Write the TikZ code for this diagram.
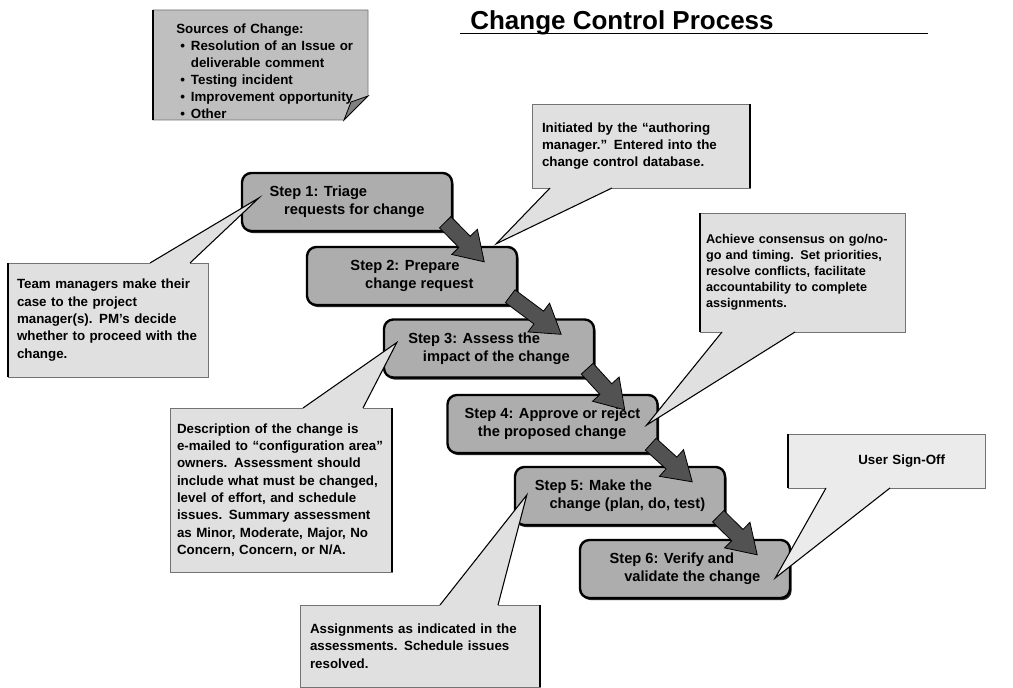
\documentclass[tikz,border=0pt]{standalone}
\usepackage{fontspec}
\setmainfont{Liberation Sans}
\usetikzlibrary{calc,shadows,backgrounds}
\newlength\pxu
\setlength\pxu{0.75pt}
\tikzset{
  stepbox/.style={draw=black, line width=1.8pt, rounded corners=7pt, fill=black!32,
    align=left, font=\fontsize{11}{13.5}\selectfont\bfseries,
    minimum width=210\pxu, minimum height=58\pxu, inner sep=0pt,
    drop shadow={shadow xshift=1.2pt, shadow yshift=-1.6pt, fill=black, opacity=0.85}},
  notebox/.style={fill=black!12, align=left, font=\fontsize{10}{13}\selectfont\bfseries,
    inner ysep=0pt, outer sep=0pt},
  notefill/.style={fill=black!12},
  noteedge/.style={draw=black!55, line width=0.5pt},
  noteside/.style={draw=black, line width=1.6pt},
  pointer/.style={draw=black, line width=0.8pt},
  arrowbody/.style={fill=black!68, draw=black, line width=0.6pt},
  srclist/.style={align=left, font=\fontsize{10}{12.75}\selectfont\bfseries,
    inner sep=0pt, text width=190\pxu},
  heading/.style={font=\fontsize{19.5}{22}\selectfont\bfseries, inner sep=0pt}
}
% block arrow from #1 to #2
\newcommand\flowarrow[2]{%
  \filldraw[arrowbody] let \p1=(#1), \p2=(#2), \n1={atan2(\y2-\y1,\x2-\x1)} in
    ($(\p1)+(\n1+90:6pt)$)
    -- ($(\p2)+(\n1+180:21pt)+(\n1+90:6pt)$)
    -- ($(\p2)+(\n1+180:21pt)+(\n1+90:13.5pt)$)
    -- (\p2)
    -- ($(\p2)+(\n1+180:21pt)+(\n1-90:13.5pt)$)
    -- ($(\p2)+(\n1+180:21pt)+(\n1-90:6pt)$)
    -- ($(\p1)+(\n1-90:6pt)$) -- cycle;}
\begin{document}
\begin{tikzpicture}[x=0.75pt,y=-0.75pt]
\useasboundingbox (0,0) rectangle (1013,688);

% ---- list of sources (note with folded corner) ----
\node[srclist, anchor=north west] (src) at (176,24) {Sources of Change:\\
\hspace*{3pt}\makebox[8pt][l]{\textbullet}Resolution of an Issue or\\
\hspace*{11pt}deliverable comment\\
\hspace*{3pt}\makebox[8pt][l]{\textbullet}Testing incident\\
\hspace*{3pt}\makebox[8pt][l]{\textbullet}Improvement opportunity\\
\hspace*{3pt}\makebox[8pt][l]{\textbullet}Other};
\begin{scope}[on background layer]
  \fill[white] (0,0) rectangle (1013,688);
  \fill[black!25] (153,10) -- (368,10) -- (368,96) -- (344,120) -- (153,120) -- cycle;
  \draw[noteedge] (153,10) -- (368,10) -- (368,96) -- (344,120) -- (153,120) -- cycle;
  \draw[noteside] (153,10) -- (153,120);
  \filldraw[fill=black!50, draw=black, line width=0.6pt] (344,120) -- (351,102) -- (368,96) -- cycle;
\end{scope}

% ---- title ----
\node[heading, anchor=base west] (title) at (470,30) {Change Control Process};
\draw[line width=1.3pt] (460,33.5) -- (928,33.5);

% ---- process steps ----
\node[stepbox] (s1) at (347,202)   {Step 1: Triage\\\hspace*{11pt}requests for change};
\node[stepbox] (s2) at (412,276)   {Step 2: Prepare\\\hspace*{11pt}change request};
\node[stepbox] (s3) at (489,348.5) {Step 3: Assess the\\\hspace*{11pt}impact of the change};
\node[stepbox] (s4) at (552.5,424) {Step 4: Approve or reject\\\hspace*{10pt}the proposed change};
\node[stepbox] (s5) at (620,496)   {Step 5: Make the\\\hspace*{11pt}change (plan, do, test)};
\node[stepbox] (s6) at (685,569)   {Step 6: Verify and\\\hspace*{11pt}validate the change};

% ---- block arrows between steps ----
\coordinate (a1s) at ($(s1.south east)+(-8,-10)$);
\coordinate (a1e) at ($(s2.north east)+(-34,16)$);
\coordinate (a2s) at ($(s2.south east)+(-8,-10)$);
\coordinate (a2e) at ($(s3.north east)+(-34,16)$);
\coordinate (a3s) at ($(s3.south east)+(-8,-10)$);
\coordinate (a3e) at ($(s4.north east)+(-34,16)$);
\coordinate (a4s) at ($(s4.south east)+(-8,-10)$);
\coordinate (a4e) at ($(s5.north east)+(-34,16)$);
\coordinate (a5s) at ($(s5.south east)+(-8,-10)$);
\coordinate (a5e) at ($(s6.north east)+(-34,16)$);
\flowarrow{a1s}{a1e}
\flowarrow{a2s}{a2e}
\flowarrow{a3s}{a3e}
\flowarrow{a4s}{a4e}
\flowarrow{a5s}{a5e}

% ---- pointer tips inside the steps ----
\coordinate (t1) at ($(s2.north east)+(-22,-2)$);
\coordinate (t2) at ($(s1.west)+(18,-4)$);
\coordinate (t3) at ($(s3.west)+(14,-6)$);
\coordinate (t4) at ($(s4.east)+(-12,1)$);
\coordinate (t5) at ($(s5.west)+(13,-1)$);
\coordinate (t6) at ($(s6.east)+(-16,9)$);

% ---- callout: change request ----
\node[notebox, minimum width=218\pxu, minimum height=84\pxu, text width=198\pxu, inner xsep=10\pxu]
  (c1) at (641,146) {Initiated by the “authoring\\manager.”\enspace Entered into the\\change control database.};
\coordinate (c1a) at ($(c1.south west)+(18,0)$);
\coordinate (c1b) at ($(c1.south west)+(80,0)$);
\fill[notefill] (c1a) -- (t1) -- (c1b) -- cycle;
\draw[noteedge] (c1a) -- (c1.south west) -- (c1.north west) -- (c1.north east) -- (c1.south east) -- (c1b);
\draw[noteside] (c1.north east) -- (c1.south east);
\draw[pointer] (c1a) -- (t1) -- (c1b);

% ---- callout: triage ----
\node[notebox, minimum width=200\pxu, minimum height=114\pxu, text width=182\pxu, inner xsep=9\pxu]
  (c2) at (108,320) {Team managers make their\\case to the project\\manager(s). PM’s decide\\whether to proceed with the\\change.};
\coordinate (c2a) at ($(c2.north west)+(142,0)$);
\coordinate (c2b) at ($(c2.north west)+(182,0)$);
\fill[notefill] (c2a) -- (t2) -- (c2b) -- cycle;
\draw[noteedge] (c2a) -- (c2.north west) -- (c2.south west) -- (c2.south east) -- (c2.north east) -- (c2b);
\draw[noteside] (c2.north west) -- (c2.south west);
\draw[pointer] (c2a) -- (t2) -- (c2b);

% ---- callout: impact assessment ----
\node[notebox, minimum width=222\pxu, minimum height=164\pxu, text width=208\pxu, inner xsep=7\pxu]
  (c3) at (281,490) {Description of the change is\\e-mailed to “configuration area”\\owners.\enspace Assessment should\\include what must be changed,\\level of effort, and schedule\\issues.\enspace Summary assessment\\as Minor, Moderate, Major, No\\Concern, Concern, or N/A.};
\coordinate (c3a) at ($(c3.north west)+(133,0)$);
\coordinate (c3b) at ($(c3.north west)+(193,0)$);
\fill[notefill] (c3a) -- (t3) -- (c3b) -- cycle;
\draw[noteedge] (c3a) -- (c3.north west) -- (c3.south west) -- (c3.south east) -- (c3.north east) -- (c3b);
\draw[noteside] (c3.north east) -- (c3.south east);
\draw[pointer] (c3a) -- (t3) -- (c3b);

% ---- callout: approval ----
\node[notebox, font=\fontsize{9.5}{12}\selectfont\bfseries, minimum width=205\pxu, minimum height=119\pxu, text width=193\pxu, inner xsep=6\pxu]
  (c4) at (802.5,272.5) {Achieve consensus on go/no-\\go and timing.\enspace Set priorities,\\resolve conflicts, facilitate\\accountability to complete\\assignments.};
\coordinate (c4a) at ($(c4.south west)+(22,0)$);
\coordinate (c4b) at ($(c4.south west)+(95,0)$);
\fill[notefill] (c4a) -- (t4) -- (c4b) -- cycle;
\draw[noteedge] (c4a) -- (c4.south west) -- (c4.north west) -- (c4.north east) -- (c4.south east) -- (c4b);
\draw[noteside] (c4.north west) -- (c4.south west);
\draw[pointer] (c4a) -- (t4) -- (c4b);

% ---- callout: make the change ----
\node[notebox, minimum width=240\pxu, minimum height=82\pxu, text width=220\pxu, inner xsep=10\pxu]
  (c5) at (420,646) {Assignments as indicated in the\\assessments.\enspace Schedule issues\\resolved.};
\coordinate (c5a) at ($(c5.north west)+(140,0)$);
\coordinate (c5b) at ($(c5.north west)+(198,0)$);
\fill[notefill] (c5a) -- (t5) -- (c5b) -- cycle;
\draw[noteedge] (c5a) -- (c5.north west) -- (c5.south west) -- (c5.south east) -- (c5.north east) -- (c5b);
\draw[noteside] (c5.north east) -- (c5.south east);
\draw[pointer] (c5a) -- (t5) -- (c5b);

% ---- callout: sign-off ----
\node[notebox, fill=black!8, align=right, minimum width=197\pxu, minimum height=54\pxu, text width=117\pxu, inner xsep=40\pxu]
  (c6) at (886.5,461) {User Sign-Off};
\coordinate (c6a) at ($(c6.south west)+(38,0)$);
\coordinate (c6b) at ($(c6.south west)+(102,0)$);
\fill[black!8] (c6a) -- (t6) -- (c6b) -- cycle;
\draw[noteedge] (c6a) -- (c6.south west) -- (c6.north west) -- (c6.north east) -- (c6.south east) -- (c6b);
\draw[noteside] (c6.north west) -- (c6.south west);
\draw[pointer] (c6a) -- (t6) -- (c6b);
\end{tikzpicture}
\end{document}
